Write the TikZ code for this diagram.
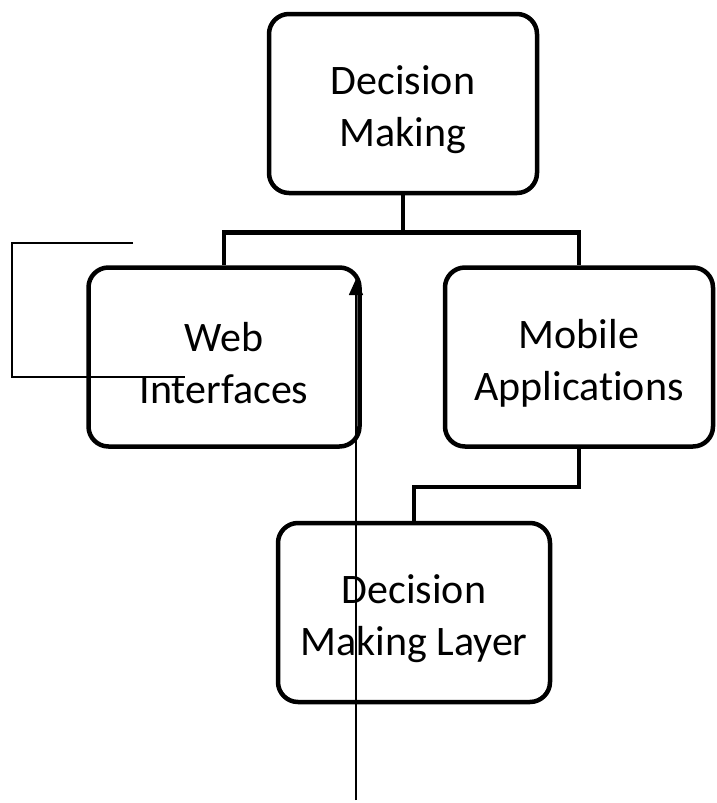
\documentclass[tikz,border=0pt]{standalone}
\usepackage{fontspec}
\setmainfont{Carlito}[Ligatures=NoCommon]
\usetikzlibrary{positioning,arrows.meta}
% extra room above the first line, pushes box text a bit lower
\newcommand{\boxstrut}{\rule{0pt}{42pt}}

\begin{document}
\begin{tikzpicture}[x=1pt,y=-1pt,
      box/.style={draw,line width=4.5pt,rounded corners=20pt,minimum width=268pt,minimum height=179pt,
        inner sep=0pt,align=center,font=\fontsize{42}{52}\selectfont},
      link/.style={line width=4.5pt},
      trace/.style={line width=1.6pt},
      >={Triangle[length=16pt,width=14pt]}]
      \useasboundingbox (0,0) rectangle (716,803);
      \node[box] (dm)     at (403,103.5) {\boxstrut Decision\\Making};
      \node[box,minimum width=271pt] (web) at (224,357) {\boxstrut Web\\Interfaces};
      \node[box] (mobile) at (579,357) {\boxstrut Mobile\\Applications};
      \node[box,minimum width=272pt] (layer) at (414,612.5) {\boxstrut Decision\\Making Layer};
      % tree links
      \draw[link] (dm.south) -- ++(0,37) coordinate (fork);
      \draw[link] (web.north) |- (fork) -| (mobile.north);
      \draw[link] (mobile.south) -- ++(0,38) -| (layer.north -| 414,0);
      % loose lines
      \coordinate (tail) at (356,800);
      \coordinate (tip)  at (356,279);
      \draw[trace,->] (tail) -- (tip);
      \coordinate (b1) at (133,243);
      \coordinate (b2) at (12,377);
      \coordinate (b3) at (185,377);
      \draw[trace] (b1) -| (b2) -- (b3);
\end{tikzpicture}
\end{document}
